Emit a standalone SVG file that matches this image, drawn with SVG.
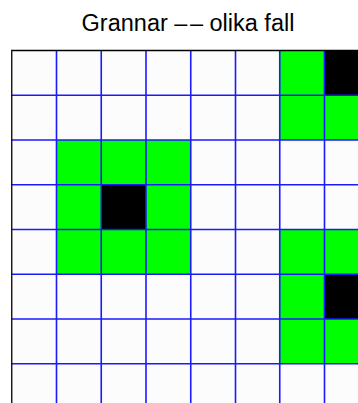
<svg xmlns="http://www.w3.org/2000/svg" width="358" height="403" viewBox="0 0 358 403">
<style>
.bg{fill:#fcfcfc}
.g{fill:#00ff00}
.k{fill:#000000}
.grid{stroke:#1a1aff;stroke-width:1.6;fill:none}
.spine{stroke:#000000;stroke-width:1.3;fill:none}
.title{font-family:"Liberation Sans",Arial,sans-serif;font-size:23.5px;fill:#000}
</style>
<rect width="358" height="403" fill="#ffffff"/>
<text class="title" x="188" y="31" text-anchor="middle">Grannar –<tspan dx="2.5">–</tspan> olika fall</text>
<g id="cells">
<rect class="bg" x="11.75" y="50.5" width="358" height="358"/>
<rect class="g" x="279.75" y="50.5" width="44.75" height="44.75"/>
<rect class="k" x="324.5" y="50.5" width="44.75" height="44.75"/>
<rect class="g" x="279.75" y="95.25" width="89.5" height="44.75"/>
<rect class="g" x="56.5" y="140" width="134.25" height="44.75"/>
<rect class="g" x="56.5" y="184.75" width="44.75" height="44.75"/>
<rect class="k" x="101.25" y="184.75" width="44.75" height="44.75"/>
<rect class="g" x="146" y="184.75" width="44.75" height="44.75"/>
<rect class="g" x="56.5" y="229.5" width="134.25" height="44.75"/>
<rect class="g" x="279.75" y="229.5" width="89.5" height="44.75"/>
<rect class="g" x="279.75" y="274.25" width="44.75" height="44.75"/>
<rect class="k" x="324.5" y="274.25" width="44.75" height="44.75"/>
<rect class="g" x="279.75" y="319" width="89.5" height="44.75"/>
</g>
<g id="gridlines" class="grid">
<path d="M56.5 50.5V410 M101.25 50.5V410 M146 50.5V410 M190.75 50.5V410 M235.5 50.5V410 M279.75 50.5V410 M324.5 50.5V410"/>
<path d="M11.75 95.25H360 M11.75 140H360 M11.75 184.75H360 M11.75 229.5H360 M11.75 274.25H360 M11.75 319H360 M11.75 363.75H360"/>
</g>
<g id="frame" class="spine">
<path d="M11.75 410V50.5H360"/>
</g>
</svg>
